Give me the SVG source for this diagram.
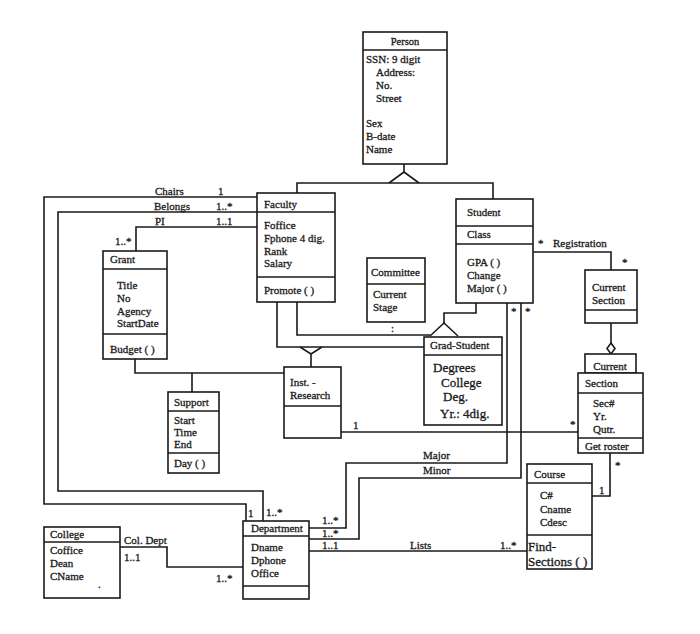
<svg xmlns="http://www.w3.org/2000/svg" width="700" height="634" viewBox="0 0 700 634">
<style>
.b{fill:#fff;stroke:#1a1a1a;stroke-width:1.6}
.l{fill:none;stroke:#1a1a1a;stroke-width:1.6}
text{font-family:"Liberation Serif","Times New Roman",serif;font-size:11px;fill:#1a1a1a;stroke:#1a1a1a;stroke-width:0.3}
.h{font-size:10.5px}
.g{font-size:13px}
</style>
<rect width="700" height="634" fill="#fff"/>
<g id="connectors">
<path class="l" d="M404,164 V172 M297,193 V183 H493 V199"/>
<path class="l" d="M404,172 L389,183 M404,172 L419,183"/>
<path class="l" d="M476,303 V313 H444 V323"/>
<path class="l" d="M430,336 L444,323 L458,336"/>
<path class="l" d="M297,302 V335 H430"/>
<path class="l" d="M277,302 V347 H424"/>
<path class="l" d="M300,347 L311,354 L322,347 M311,354 V367"/>
<path class="l" d="M135,359 V373 H284 M192,373 V392"/>
<path class="l" d="M257,197 H44 V504 H246 V521"/>
<path class="l" d="M257,212 H58 V491 H263 V521"/>
<path class="l" d="M257,227 H136 V251"/>
<path class="l" d="M533,252 H611 V270"/>
<path class="l" d="M611,323 V343"/>
<path class="b" d="M611,343 L615,348.5 L611,354 L607,348.5 Z"/>
<path class="l" d="M341,432 H578"/>
<path class="l" d="M309,528 H346 V463 H507 V303"/>
<path class="l" d="M309,539 H359 V478 H521 V303"/>
<path class="l" d="M309,551 H527"/>
<path class="l" d="M592,496 H610 V453"/>
<path class="l" d="M120,547 H167 V567 H243"/>
</g>
<g id="labels">
<text x="155" y="195">Chairs</text>
<text x="218" y="195">1</text>
<text x="154" y="210">Belongs</text>
<text x="216" y="210">1..*</text>
<text x="155" y="225">PI</text>
<text x="216" y="225">1..1</text>
<text x="115" y="245">1..*</text>
<text x="538" y="247">*</text>
<text x="553" y="247">Registration</text>
<text x="622" y="266">*</text>
<text x="511" y="315">*</text>
<text x="525" y="315">*</text>
<text x="391" y="332">:</text>
<text x="353" y="429">1</text>
<text x="570" y="428">*</text>
<text x="423" y="459">Major</text>
<text x="423" y="474">Minor</text>
<text x="615" y="469">*</text>
<text x="599" y="494">1</text>
<text x="248" y="517">1</text>
<text x="266" y="516">1..*</text>
<text x="322" y="524">1..*</text>
<text x="322" y="537">1..*</text>
<text x="322" y="549">1..1</text>
<text x="410" y="549">Lists</text>
<text x="500" y="549">1..*</text>
<text x="124" y="544">Col. Dept</text>
<text x="124" y="561">1..1</text>
<text x="216" y="582">1..*</text>
</g>
<g id="person">
<rect class="b" x="363" y="32" width="84" height="132"/>
<line class="l" x1="363" y1="50" x2="447" y2="50"/>
<text class="h" x="405" y="45" text-anchor="middle">Person</text>
<text x="366" y="63">SSN: 9 digit</text>
<text x="376" y="76">Address:</text>
<text x="376" y="89">No.</text>
<text x="376" y="102">Street</text>
<text x="366" y="127">Sex</text>
<text x="366" y="140">B-date</text>
<text x="366" y="153">Name</text>
</g>
<g id="faculty">
<rect class="b" x="257" y="193" width="78" height="109"/>
<line class="l" x1="257" y1="212" x2="335" y2="212"/>
<line class="l" x1="257" y1="277" x2="335" y2="277"/>
<text x="264" y="208">Faculty</text>
<text x="264" y="229">Foffice</text>
<text x="264" y="242">Fphone 4 dig.</text>
<text x="264" y="255">Rank</text>
<text x="264" y="267">Salary</text>
<text x="264" y="294">Promote ( )</text>
</g>
<g id="student">
<rect class="b" x="456" y="199" width="77" height="104"/>
<line class="l" x1="456" y1="226" x2="533" y2="226"/>
<line class="l" x1="456" y1="244" x2="533" y2="244"/>
<text x="467" y="216">Student</text>
<text x="467" y="238">Class</text>
<text x="467" y="266">GPA ( )</text>
<text x="467" y="279">Change</text>
<text x="467" y="292">Major ( )</text>
</g>
<g id="committee">
<rect class="b" x="367" y="258" width="58" height="64"/>
<line class="l" x1="367" y1="284" x2="425" y2="284"/>
<text x="371" y="276">Committee</text>
<text x="373" y="298">Current</text>
<text x="373" y="311">Stage</text>
</g>
<g id="grant">
<rect class="b" x="103" y="251" width="64" height="108"/>
<line class="l" x1="103" y1="269" x2="167" y2="269"/>
<line class="l" x1="103" y1="334" x2="167" y2="334"/>
<text x="110" y="263">Grant</text>
<text x="117" y="289">Title</text>
<text x="117" y="302">No</text>
<text x="117" y="315">Agency</text>
<text x="117" y="327">StartDate</text>
<text x="110" y="353">Budget ( )</text>
</g>
<g id="current-section-upper">
<rect class="b" x="585" y="270" width="52" height="53"/>
<line class="l" x1="585" y1="310" x2="637" y2="310"/>
<text x="592" y="291">Current</text>
<text x="592" y="304">Section</text>
</g>
<g id="grad-student">
<rect class="b" x="424" y="337" width="78" height="88"/>
<line class="l" x1="424" y1="355" x2="502" y2="355"/>
<text x="430" y="349">Grad-Student</text>
<text class="g" x="433" y="372">Degrees</text>
<text class="g" x="441" y="387">College</text>
<text class="g" x="443" y="401">Deg.</text>
<text class="g" x="440" y="418">Yr.: 4dig.</text>
</g>
<g id="inst-research">
<rect class="b" x="284" y="367" width="57" height="71"/>
<line class="l" x1="284" y1="406" x2="341" y2="406"/>
<text x="290" y="386">Inst. -</text>
<text x="290" y="399">Research</text>
</g>
<g id="support">
<rect class="b" x="168" y="392" width="51" height="81"/>
<line class="l" x1="168" y1="411" x2="219" y2="411"/>
<line class="l" x1="168" y1="453" x2="219" y2="453"/>
<text x="174" y="406">Support</text>
<text x="174" y="424">Start</text>
<text x="174" y="436">Time</text>
<text x="174" y="448">End</text>
<text x="174" y="467">Day ( )</text>
</g>
<g id="section">
<rect class="b" x="585" y="354" width="51" height="19"/>
<rect class="b" x="578" y="373" width="65" height="80"/>
<line class="l" x1="578" y1="393" x2="643" y2="393"/>
<line class="l" x1="578" y1="438" x2="643" y2="438"/>
<text x="610" y="370" text-anchor="middle">Current</text>
<text x="585" y="387">Section</text>
<text x="593" y="407">Sec#</text>
<text x="593" y="420">Yr.</text>
<text x="593" y="433">Qutr.</text>
<text x="585" y="450">Get roster</text>
</g>
<g id="course">
<rect class="b" x="527" y="464" width="65" height="105"/>
<line class="l" x1="527" y1="483" x2="592" y2="483"/>
<line class="l" x1="527" y1="535" x2="592" y2="535"/>
<text x="534" y="478">Course</text>
<text x="540" y="499">C#</text>
<text x="540" y="513">Cname</text>
<text x="540" y="526">Cdesc</text>
<text class="g" x="528" y="551">Find-</text>
<text class="g" x="528" y="566">Sections ( )</text>
</g>
<g id="college">
<rect class="b" x="44" y="527" width="76" height="71"/>
<line class="l" x1="44" y1="542" x2="120" y2="542"/>
<text x="50" y="538">College</text>
<text x="50" y="554">Coffice</text>
<text x="50" y="567">Dean</text>
<text x="50" y="580">CName</text>
<text x="98" y="588">.</text>
</g>
<g id="department">
<rect class="b" x="243" y="521" width="66" height="78"/>
<line class="l" x1="243" y1="536" x2="309" y2="536"/>
<line class="l" x1="243" y1="586" x2="309" y2="586"/>
<text x="251" y="532">Department</text>
<text x="251" y="551">Dname</text>
<text x="251" y="564">Dphone</text>
<text x="251" y="577">Office</text>
</g>
</svg>
